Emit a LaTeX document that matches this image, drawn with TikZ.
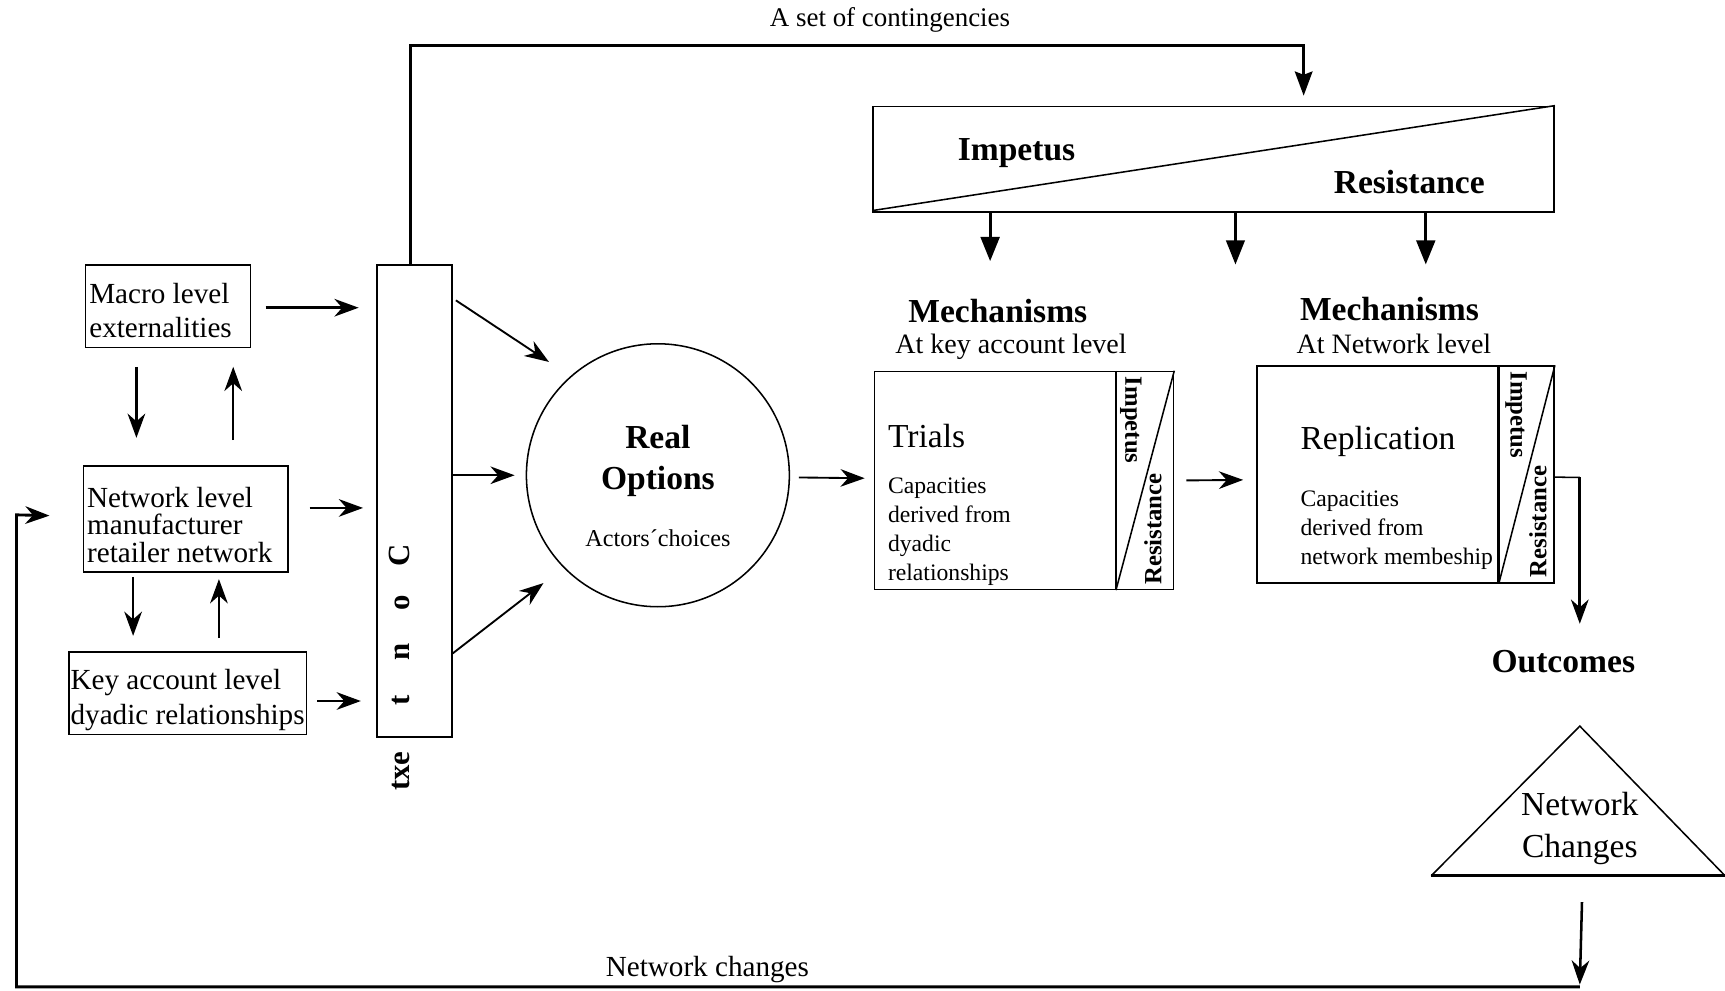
\documentclass[tikz,border=0pt]{standalone}
\usepackage{fontspec}
\setmainfont{Liberation Serif}
\usetikzlibrary{arrows.meta,calc}
\newcommand\fsz[2]{\fontsize{#1}{#2}\selectfont}
\begin{document}
\begin{tikzpicture}[x=1pt,y=-1pt,
  box/.style={draw, line width=1.4pt, inner sep=0pt, anchor=north west},
  lbl/.style={inner sep=0pt},
  boxtxt/.style={lbl, anchor=west, align=left},
  arr/.style={line width=2.3pt, -{Stealth[length=22pt,width=16pt,inset=7pt]}},
  thinarr/.style={line width=1.7pt, -{Stealth[length=22pt,width=16pt,inset=7pt]}},
  tarr/.style={line width=2.8pt, -{Triangle[length=22pt,width=17pt]}},
  bold/.style={lbl, font=\bfseries\fsz{30.5}{37}},
  rotb/.style={lbl, font=\bfseries\fsz{22.5}{26}},
  ctxl/.style={lbl, font=\bfseries\fsz{28}{30}, rotate=90, text height=0.7em, text depth=0pt}]
\useasboundingbox (0,0) rectangle (1568,900);

% left boxes
\node[box, minimum width=150pt, minimum height=75pt] (macro) at (77,240) {};
\node[boxtxt, font=\fsz{26.5}{31}] (macrot) at (81,282) {Macro level\\externalities};
\node[box, minimum width=186pt, minimum height=96pt] (netw) at (75,423) {};
\node[boxtxt, font=\fsz{26.5}{25}] (netwt) at (79,477) {Network level\\manufacturer\\retailer network};
\node[box, minimum width=216pt, minimum height=75pt] (key) at (62,592) {};
\node[boxtxt, font=\fsz{26.5}{32}] (keyt) at (64,636) {Key account level\\dyadic relationships};

% context box
\node[box, minimum width=68pt, minimum height=429pt] (ctx) at (342,240) {};
\node[ctxl] (c1) at (369,505) {C};
\node[ctxl] (c2) at (369,548) {o};
\node[ctxl] (c3) at (369,593) {n};
\node[ctxl] (c4) at (369,637) {t};
\node[ctxl] (c5) at (369,701) {txe};

% arrows left
\draw[arr] ($(macro.east)+(13,1.5)$) -- ($(ctx.west |- macro.east)+(-16,1.5)$);
\draw[arr] ($(netw.east)+(19,-10)$) -- ($(ctx.west |- netw.east)+(-12,-10)$);
\draw[arr] ($(key.east)+(9,7)$) -- ($(ctx.west |- key.east)+(-14,7)$);
\draw[arr] ($(macro.south west)+(47,17)$) -- ($(netw.north west)+(49,-25)$);
\draw[arr] ($(netw.north west)+(137,-23)$) -- ($(macro.south west)+(135,17)$);
\draw[arr] ($(netw.south west)+(46,4)$) -- ($(key.north west)+(59,-14)$);
\draw[arr] ($(key.north west)+(137,-12)$) -- ($(netw.south west)+(124,6)$);

% real options
\node[draw, circle, line width=1.4pt, minimum size=239pt, inner sep=0pt] (ro) at (598,432) {};
\node[bold, align=center] (rot) at (598,419) {Real\\Options};
\node[lbl, font=\fsz{22}{26}] (ros) at (598,489) {Actors´choices};
\draw[thinarr] ($(ctx.north east)+(3,33)$) -- (499,329);
\draw[thinarr] (ctx.east |- ro.west) -- ($(ro.west)+(-10,0)$);
\draw[thinarr] ($(ctx.north east)+(0,354)$) -- (494,530);

% contingencies
\node[lbl, font=\fsz{24.5}{28}] (cont) at (809,18) {A set of contingencies};
\node[box, minimum width=619pt, minimum height=96pt] (ir) at (793,96) {};
\draw[line width=1.4pt] ($(ir.south west)+(0,-2)$) -- (ir.north east);
\node[bold] (irI) at (924,139) {Impetus};
\node[bold] (irR) at (1281,165) {Resistance};
\coordinate (ctop) at (373,41);
\coordinate (cright) at (1185,41);
\draw[line width=2.6pt, -{Stealth[length=22pt,width=16pt,inset=3pt]}] ($(ctx.north west)+(31,0)$) -- (ctop) -- (cright) -- ($(ir.north west)+(392,-9)$);
\draw[tarr] ($(ir.south west)+(107,0)$) -- ++(0,44);
\draw[tarr, line width=2pt] ($(ir.south west)+(330,0)$) -- ++(0,47);
\draw[tarr] ($(ir.south west)+(503,0)$) -- ++(0,47);

% mechanisms key account
\node[bold] (m1) at (907,283) {Mechanisms};
\node[lbl, font=\fsz{25.5}{30}] (m1s) at (919,315) {At key account level};
\node[box, minimum width=272pt, minimum height=198pt] (trials) at (794,337) {};
\draw[line width=2.6pt] ($(trials.north east)+(-53,0)$) -- ($(trials.south east)+(-53,0)$);
\draw[line width=1.4pt] ($(trials.south east)+(-53,0)$) -- (trials.north east);
\node[lbl, anchor=west, font=\fsz{30.5}{36}] (tt) at (807,396) {Trials};
\node[lbl, anchor=north west, align=left, font=\fsz{21.5}{26.4}] (tc) at (807,434) {Capacities\\derived from\\dyadic\\relationships};
\node[rotb, rotate=-90] (ti) at (1028,382) {Impetus};
\node[rotb, rotate=90] (tr) at (1048,481) {Resistance};

% mechanisms network
\node[bold] (m2) at (1263,281) {Mechanisms};
\node[lbl, font=\fsz{25.5}{30}] (m2s) at (1267,313) {At Network level};
\node[box, minimum width=270pt, minimum height=197pt] (repl) at (1142,332) {};
\draw[line width=2.6pt] ($(repl.north east)+(-51,0)$) -- ($(repl.south east)+(-51,0)$);
\draw[line width=1.4pt] ($(repl.south east)+(-51,0)$) -- (repl.north east);
\node[lbl, anchor=west, font=\fsz{30.5}{36}] (rt) at (1182,401) {Replication};
\node[lbl, anchor=north west, align=left, font=\fsz{21.5}{26.5}] (rc) at (1182,446) {Capacities\\derived from\\network membeship};
\node[rotb, rotate=-90] (ri) at (1378,377) {Impetus};
\node[rotb, rotate=90] (rr) at (1398,474) {Resistance};

\draw[thinarr] ($(ro.east)+(8,2)$) -- ($(trials.west)+(-8,-2)$);
\draw[thinarr] ($(trials.east)+(11,0)$) -- ($(repl.west)+(-12,5)$);

% outcomes
\coordinate (oc1) at (1436,434);
\draw[line width=1.4pt] ($(repl.east)+(0,2.5)$) -- (oc1);
\draw[arr, line width=2.6pt] (oc1) -- (1436,567);
\node[bold] (outc) at (1421,601) {Outcomes};

% triangle
\coordinate (triA) at (1436,660);
\coordinate (triL) at (1301,796);
\coordinate (triR) at (1568,796);
\draw[line width=1.4pt] (triL) -- (triA) -- (triR);
\draw[line width=2.6pt] (triL) -- (triR);
\node[lbl, align=center, font=\fsz{30.5}{38}] (tri) at (1436,753) {Network\\Changes};
\coordinate (fbE) at (1436,897);
\draw[arr] (1438,820) -- ($(fbE)+(0,-2)$);

% feedback
\draw[line width=2.6pt, -{Stealth[length=22pt,width=16pt,inset=7pt]}] (fbE) -- (15,897) -- (15,468) -- ($(netw.west)+(-30,-3)$);
\node[lbl, font=\fsz{26.5}{30}] (nc) at (643,881) {Network changes};
\end{tikzpicture}
\end{document}
